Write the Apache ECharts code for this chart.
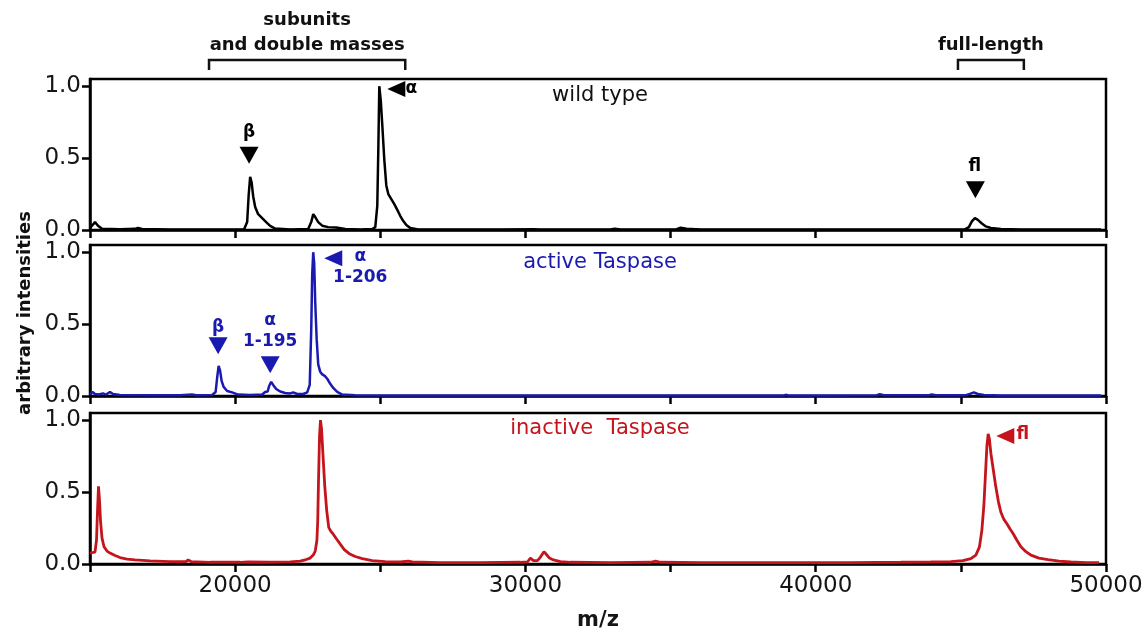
<!DOCTYPE html>
<html>
<head>
<meta charset="utf-8">
<script src="https://cdn.jsdelivr.net/npm/echarts@6/dist/echarts.min.js"></script>
<style>
html, body { margin: 0; padding: 0; background: #fff; }
#chart { width: 1146px; height: 635px; }
</style>
</head>
<body>
<div id="chart"></div>
<script>
// spectra: [m/z, normalised intensity]
var wildType = [
  [15000, 0.015], [15069, 0.03], [15172, 0.055], [15276, 0.03], [15414, 0.008], [16034, 0.005],
  [16552, 0.008], [16655, 0.015], [16793, 0.007], [17759, 0.004], [18793, 0.004], [19828, 0.004],
  [20310, 0.006], [20414, 0.055], [20465, 0.24], [20517, 0.37], [20569, 0.33], [20621, 0.235],
  [20690, 0.16], [20793, 0.11], [20931, 0.083], [21069, 0.055], [21207, 0.028], [21379, 0.01],
  [21897, 0.004], [22517, 0.007], [22621, 0.055], [22690, 0.11], [22759, 0.09], [22862, 0.055],
  [23000, 0.03], [23207, 0.02], [23483, 0.017], [23793, 0.007], [24310, 0.004], [24724, 0.007],
  [24828, 0.02], [24897, 0.17], [24931, 0.55], [24966, 1.0], [25017, 0.9], [25069, 0.73],
  [25138, 0.49], [25207, 0.31], [25276, 0.25], [25379, 0.215], [25483, 0.18], [25586, 0.14],
  [25690, 0.097], [25793, 0.062], [25897, 0.035], [26034, 0.014], [26310, 0.004], [27414, 0.003],
  [29138, 0.003], [30276, 0.006], [30517, 0.003], [31897, 0.003], [32931, 0.004], [33069, 0.009],
  [33276, 0.004], [34655, 0.003], [35207, 0.006], [35345, 0.016], [35552, 0.008], [36034, 0.003],
  [37759, 0.003], [39483, 0.003], [41207, 0.003], [42931, 0.003], [44655, 0.003], [45138, 0.005],
  [45276, 0.02], [45379, 0.06], [45483, 0.083], [45586, 0.07], [45724, 0.045], [45862, 0.025],
  [46034, 0.014], [46379, 0.007], [47069, 0.004], [48448, 0.003], [49828, 0.003]
];
var activeTaspase = [
  [15000, 0.01], [15086, 0.028], [15172, 0.014], [15310, 0.01], [15448, 0.018], [15552, 0.01],
  [15690, 0.028], [15793, 0.014], [16034, 0.007], [17069, 0.005], [18103, 0.005], [18517, 0.01],
  [18655, 0.005], [19207, 0.007], [19328, 0.028], [19379, 0.125], [19431, 0.21], [19483, 0.175],
  [19534, 0.105], [19603, 0.063], [19724, 0.035], [19897, 0.025], [20103, 0.01], [20517, 0.007],
  [20931, 0.01], [21034, 0.028], [21121, 0.031], [21172, 0.07], [21241, 0.098], [21310, 0.077],
  [21414, 0.049], [21552, 0.031], [21724, 0.021], [21897, 0.018], [22000, 0.025], [22138, 0.014],
  [22345, 0.014], [22483, 0.025], [22569, 0.077], [22621, 0.46], [22655, 0.85], [22690, 1.0],
  [22724, 0.92], [22759, 0.65], [22810, 0.39], [22862, 0.22], [22931, 0.168], [23000, 0.15],
  [23086, 0.14], [23172, 0.12], [23276, 0.085], [23379, 0.056], [23517, 0.028], [23690, 0.01],
  [24138, 0.005], [25690, 0.004], [27414, 0.004], [29138, 0.004], [31207, 0.004], [33276, 0.004],
  [36034, 0.004], [38897, 0.004], [38966, 0.008], [39069, 0.004], [40517, 0.004], [42103, 0.005],
  [42207, 0.012], [42345, 0.005], [43897, 0.005], [44000, 0.01], [44138, 0.005], [45172, 0.006],
  [45310, 0.015], [45448, 0.025], [45586, 0.014], [45793, 0.007], [46379, 0.004], [48103, 0.003],
  [49828, 0.003]
];
var inactiveTaspase = [
  [15000, 0.075], [15052, 0.085], [15103, 0.08], [15172, 0.083], [15224, 0.165], [15259, 0.37],
  [15293, 0.54], [15328, 0.44], [15362, 0.3], [15414, 0.18], [15483, 0.12], [15586, 0.09],
  [15690, 0.076], [15862, 0.059], [16034, 0.045], [16276, 0.034], [16552, 0.028], [17069, 0.022],
  [17759, 0.017], [18310, 0.017], [18379, 0.028], [18483, 0.017], [19138, 0.012], [20172, 0.012],
  [20448, 0.014], [21207, 0.012], [21897, 0.015], [22241, 0.02], [22448, 0.031], [22586, 0.041],
  [22690, 0.062], [22759, 0.09], [22817, 0.165], [22845, 0.3], [22872, 0.58], [22907, 0.89],
  [22941, 1.0], [22976, 0.94], [23024, 0.765], [23086, 0.545], [23155, 0.37], [23224, 0.255],
  [23293, 0.228], [23379, 0.207], [23500, 0.172], [23621, 0.138], [23759, 0.1], [23931, 0.072],
  [24138, 0.052], [24379, 0.038], [24724, 0.024], [25172, 0.017], [25690, 0.014], [25966, 0.02],
  [26103, 0.014], [27069, 0.01], [28448, 0.01], [29828, 0.012], [30069, 0.014], [30172, 0.041],
  [30276, 0.024], [30414, 0.024], [30517, 0.048], [30638, 0.086], [30724, 0.066], [30828, 0.041],
  [30966, 0.028], [31207, 0.017], [31552, 0.012], [32931, 0.01], [34310, 0.012], [34483, 0.02],
  [34655, 0.012], [36034, 0.01], [37759, 0.01], [39483, 0.01], [41207, 0.01], [42931, 0.012],
  [43966, 0.014], [44655, 0.017], [45069, 0.024], [45345, 0.038], [45517, 0.062], [45638, 0.117],
  [45724, 0.234], [45793, 0.407], [45845, 0.614], [45897, 0.82], [45941, 0.905], [45983, 0.87],
  [46034, 0.77], [46121, 0.65], [46207, 0.533], [46293, 0.434], [46379, 0.36], [46483, 0.31],
  [46586, 0.28], [46690, 0.245], [46793, 0.214], [46931, 0.165], [47069, 0.12], [47241, 0.086],
  [47414, 0.062], [47690, 0.041], [48000, 0.031], [48379, 0.02], [48793, 0.014], [49310, 0.01],
  [49759, 0.009]
];

var xMin = 15000, xMax = 50000, xStep = 5000;
var xLabelValues = [20000, 30000, 40000, 50000];
var yTickValues = [0, 0.5, 1];
var panelNames = ['wild type', 'active Taspase', 'inactive  Taspase'];

// arrow heads: [m/z, intensity, direction]; peak labels: [m/z, intensity, text]
var arrows = [
  [[20480, 0.52, 'down'], [25552, 0.98, 'left'], [45500, 0.28, 'down']],
  [[19414, 0.35, 'down'], [21207, 0.217, 'down'], [23379, 0.958, 'left']],
  [[46531, 0.89, 'left']]
];
var peakLabels = [
  [[20483, 0.674, 'β'], [26069, 0.98, 'α'], [45483, 0.444, 'fl']],
  [[19414, 0.476, 'β'], [21207, 0.448, 'α\n1-195'], [24310, 0.895, 'α\n1-206']],
  [[47135, 0.903, 'fl']]
];
// bracket spans above the top panel
var brackets = [
  { from: 19100, to: 25860, text: 'subunits\nand double masses' },
  { from: 44900, to: 47170, text: 'full-length' }
];

var colors = ['#000000', '#1a1ab0', '#c4141c'];
var FONT = 'DejaVu Sans';

var chart = echarts.init(document.getElementById('chart'));

var gridTops = [79, 245, 413];
var grids = [], xAxes = [], yAxes = [], series = [];
var spectra = [wildType, activeTaspase, inactiveTaspase];

spectra.forEach(function (data, i) {
  grids.push({
    left: 90, right: 40, top: gridTops[i], height: 151,
    show: true, borderColor: '#000', borderWidth: 2.5, backgroundColor: 'transparent'
  });
  var last = i === spectra.length - 1;
  xAxes.push({
    type: 'value', gridIndex: i, min: xMin, max: xMax, interval: xStep,
    axisLine: { onZero: false, lineStyle: { color: '#000', width: 2.5 } },
    axisTick: { show: true, length: 8, lineStyle: { color: '#000', width: 2.5 } },
    axisLabel: {
      show: last, margin: 11, color: '#151515', fontSize: 23, fontFamily: FONT,
      customValues: xLabelValues,
      formatter: function (v) { return String(v); }
    },
    splitLine: { show: false },
    name: last ? 'm/z' : '',
    nameLocation: 'middle', nameGap: 46,
    nameTextStyle: { color: '#151515', fontSize: 21, fontWeight: 'bold', fontFamily: FONT }
  });
  yAxes.push({
    type: 'value', gridIndex: i, min: 0, max: 1.05,
    axisLine: { show: true, lineStyle: { color: '#000', width: 2.5 } },
    axisTick: { show: true, length: 8, lineStyle: { color: '#000', width: 2.5 }, customValues: yTickValues },
    axisLabel: {
      margin: 9, color: '#151515', fontSize: 23, fontFamily: FONT,
      customValues: yTickValues,
      formatter: function (v) { return v.toFixed(1); }
    },
    splitLine: { show: false }
  });

  var marks = [];
  arrows[i].forEach(function (a) {
    marks.push({
      coord: [a[0], a[1]],
      symbol: 'triangle',
      symbolSize: a[2] === 'down' ? [19, 17] : [16, 18],
      symbolRotate: a[2] === 'down' ? 180 : 90,
      itemStyle: { color: colors[i] },
      label: { show: false }
    });
  });
  peakLabels[i].forEach(function (p) {
    marks.push({
      coord: [p[0], p[1]],
      symbol: 'circle', symbolSize: 1,
      itemStyle: { color: 'rgba(0,0,0,0)' },
      label: {
        show: true, position: 'inside', formatter: p[2],
        color: colors[i], fontSize: 17, fontWeight: 'bold', fontFamily: FONT, lineHeight: 21
      }
    });
  });

  series.push({
    type: 'line', name: panelNames[i], xAxisIndex: i, yAxisIndex: i,
    data: data, showSymbol: false, symbol: 'none',
    lineStyle: { color: colors[i], width: i === 2 ? 2.8 : 2.5 },
    markPoint: { silent: true, animation: false, data: marks }
  });
});

var titleY = [96, 263, 429];
var graphics = panelNames.map(function (t, i) {
  return {
    type: 'text', x: 600, y: titleY[i],
    style: {
      text: t, fill: i === 0 ? '#111' : colors[i], font: '21px "' + FONT + '"',
      align: 'center', verticalAlign: 'middle', textAlign: 'center', textVerticalAlign: 'middle'
    }
  };
});
graphics.push({
  type: 'text', x: 25, y: 313, rotation: Math.PI / 2,
  style: {
    text: 'arbitrary intensities', fill: '#111', font: 'bold 18px "' + FONT + '"',
    align: 'center', verticalAlign: 'middle', textAlign: 'center', textVerticalAlign: 'middle'
  }
});

chart.setOption({
  animation: false,
  backgroundColor: '#fff',
  grid: grids,
  xAxis: xAxes,
  yAxis: yAxes,
  series: series,
  graphic: graphics
});

// brackets placed with the top panel's x scale
brackets.forEach(function (b) {
  var x0 = chart.convertToPixel({ xAxisIndex: 0 }, b.from);
  var x1 = chart.convertToPixel({ xAxisIndex: 0 }, b.to);
  graphics.push({
    type: 'polyline',
    shape: { points: [[x0, 70], [x0, 60], [x1, 60], [x1, 70]] },
    style: { stroke: '#111', lineWidth: 2.5, fill: null }
  });
  graphics.push({
    type: 'text', x: (x0 + x1) / 2, y: 58,
    style: {
      text: b.text, fill: '#111', font: 'bold 18px "' + FONT + '"', lineHeight: 25,
      align: 'center', verticalAlign: 'bottom', textAlign: 'center', textVerticalAlign: 'bottom'
    }
  });
});
chart.setOption({ graphic: graphics });

window.addEventListener('resize', function () { chart.resize(); });
</script>
</body>
</html>
